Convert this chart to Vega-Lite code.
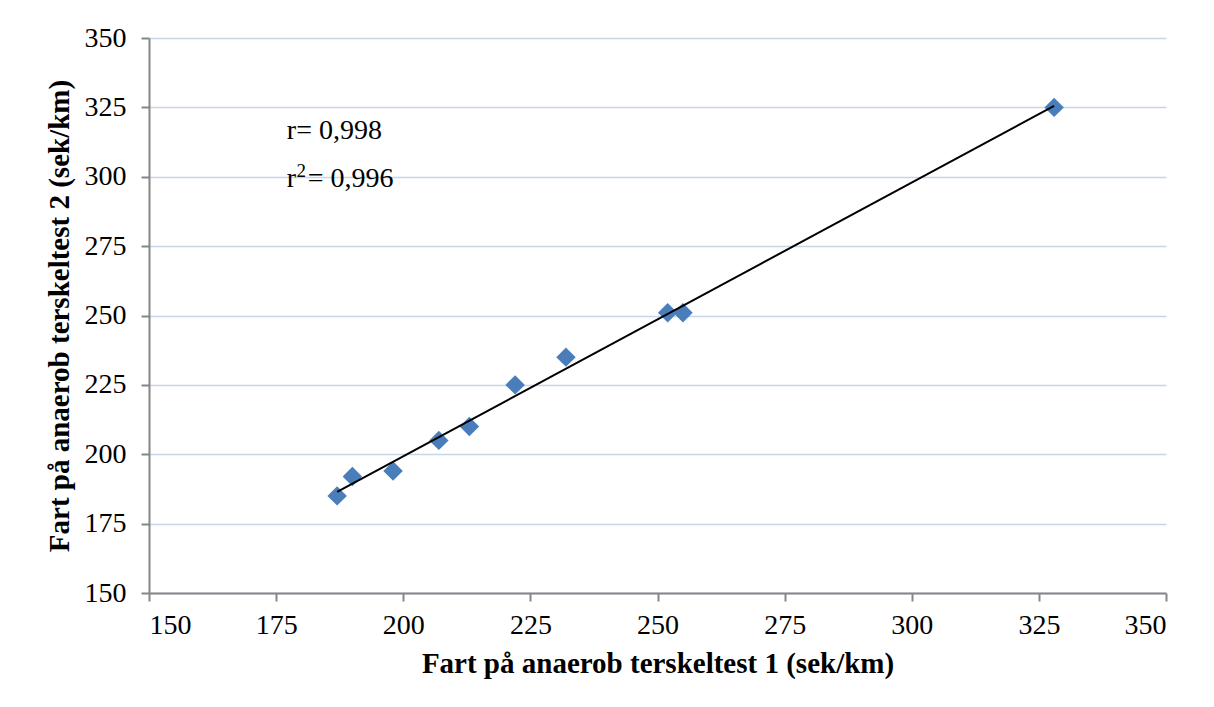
{
  "$schema": "https://vega.github.io/schema/vega-lite/v6.json",
  "width": 1017,
  "height": 555,
  "autosize": {"type": "none"},
  "padding": {"left": 149, "top": 38, "right": 48, "bottom": 114},
  "background": "white",
  "config": {
    "font": "Liberation Serif",
    "view": {"stroke": null},
    "axis": {
      "labelFont": "Liberation Serif",
      "labelFontSize": 28,
      "labelColor": "#000000",
      "titleFont": "Liberation Serif",
      "titleFontSize": 29,
      "titleFontWeight": "bold",
      "titleColor": "#000000",
      "domainColor": "#868686",
      "domainWidth": 2,
      "tickColor": "#868686",
      "tickWidth": 2,
      "tickSize": 8,
      "gridColor": "#c6d6ea",
      "gridWidth": 1.5
    }
  },
  "datasets": {
    "points": [
      {"test1": 187, "test2": 185},
      {"test1": 190, "test2": 192},
      {"test1": 198, "test2": 194},
      {"test1": 207, "test2": 205},
      {"test1": 213, "test2": 210},
      {"test1": 222, "test2": 225},
      {"test1": 232, "test2": 235},
      {"test1": 252, "test2": 251},
      {"test1": 255, "test2": 251},
      {"test1": 328, "test2": 325}
    ],
    "mainText": [
      {"x": 177.1, "y": 313.5, "label": "r= 0,998"},
      {"x": 177.1, "y": 296.3, "label": "r"}
    ],
    "supText": [
      {"x": 179.0, "y": 299.9, "label": "2"}
    ],
    "eqText": [
      {"x": 181.2, "y": 296.3, "label": "= 0,996"}
    ]
  },
  "layer": [
    {
      "data": {"name": "points"},
      "mark": {"type": "point", "shape": "diamond", "filled": true, "size": 380, "color": "#4a7ebb", "opacity": 1},
      "encoding": {
        "x": {
          "field": "test1", "type": "quantitative",
          "scale": {"domain": [150, 350], "nice": false, "zero": false},
          "axis": {
            "values": [150, 175, 200, 225, 250, 275, 300, 325, 350],
            "grid": false,
            "labelPadding": 10,
            "title": "Fart på anaerob terskeltest 1 (sek/km)",
            "titlePadding": 10
          }
        },
        "y": {
          "field": "test2", "type": "quantitative",
          "scale": {"domain": [150, 350], "nice": false, "zero": false},
          "axis": {
            "values": [150, 175, 200, 225, 250, 275, 300, 325, 350],
            "grid": true,
            "labelPadding": 15,
            "title": "Fart på anaerob terskeltest 2 (sek/km)",
            "titlePadding": 10
          }
        }
      }
    },
    {
      "data": {"name": "points"},
      "transform": [{"regression": "test2", "on": "test1"}],
      "mark": {"type": "line", "color": "#000000", "strokeWidth": 2},
      "encoding": {
        "x": {"field": "test1", "type": "quantitative"},
        "y": {"field": "test2", "type": "quantitative"}
      }
    },
    {
      "data": {"name": "mainText"},
      "mark": {"type": "text", "align": "left", "baseline": "alphabetic", "fontSize": 28, "color": "#000000"},
      "encoding": {
        "x": {"field": "x", "type": "quantitative"},
        "y": {"field": "y", "type": "quantitative"},
        "text": {"field": "label"}
      }
    },
    {
      "data": {"name": "supText"},
      "mark": {"type": "text", "align": "left", "baseline": "alphabetic", "fontSize": 19, "color": "#000000"},
      "encoding": {
        "x": {"field": "x", "type": "quantitative"},
        "y": {"field": "y", "type": "quantitative"},
        "text": {"field": "label"}
      }
    },
    {
      "data": {"name": "eqText"},
      "mark": {"type": "text", "align": "left", "baseline": "alphabetic", "fontSize": 28, "color": "#000000"},
      "encoding": {
        "x": {"field": "x", "type": "quantitative"},
        "y": {"field": "y", "type": "quantitative"},
        "text": {"field": "label"}
      }
    }
  ]
}
